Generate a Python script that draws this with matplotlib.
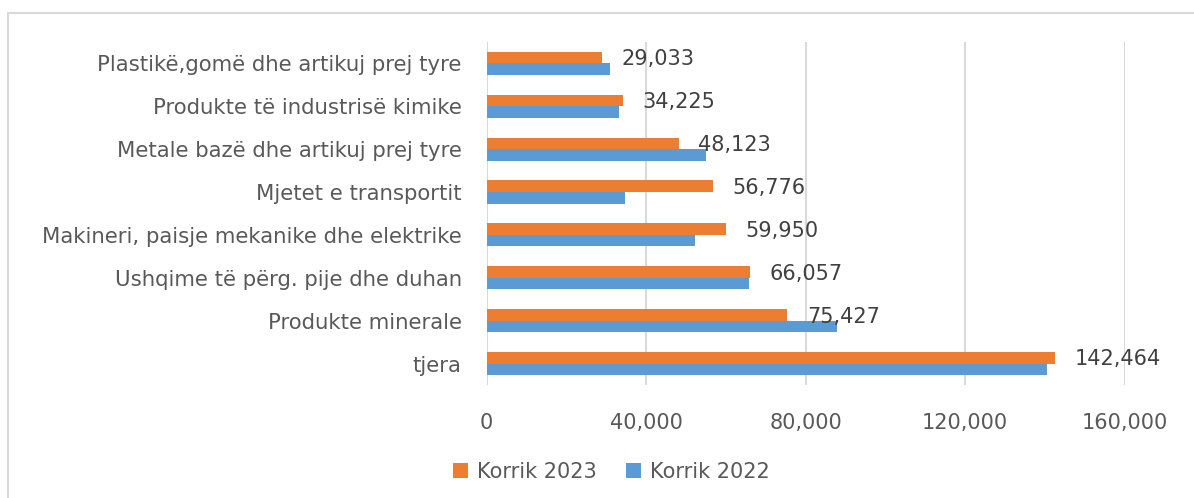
import matplotlib.pyplot as plt
from matplotlib.patches import Rectangle

# categories, top to bottom
categories = ['Plastikë,gomë dhe artikuj prej tyre',
              'Produkte të industrisë kimike',
              'Metale bazë dhe artikuj prej tyre',
              'Mjetet e transportit',
              'Makineri, paisje mekanike dhe elektrike',
              'Ushqime të përg. pije dhe duhan',
              'Produkte minerale',
              'tjera']
korrik_2023 = [29033, 34225, 48123, 56776, 59950, 66057, 75427, 142464]
korrik_2022 = [30900, 33200, 55100, 34800, 52300, 65800, 87800, 140600]
xticks = [0, 40000, 80000, 120000, 160000]

orange = '#ED7D31'
blue = '#5B9BD5'
txt = '#595959'

fig = plt.figure(figsize=(11.94, 4.98), dpi=100)
ax = fig.add_axes([0.4076, 0.227, 0.942 - 0.4076, 0.9157 - 0.227])

y = list(range(len(categories)))
h = 0.27
ax.barh([i - h / 2 for i in y], korrik_2023, height=h, color=orange, label='Korrik 2023', zorder=3)
ax.barh([i + h / 2 for i in y], korrik_2022, height=h, color=blue, label='Korrik 2022', zorder=3)

# data labels for 2023
for i, v in enumerate(korrik_2023):
    ax.annotate(f'{v:,}', (v, i - h / 2 + 0.04), xytext=(14, 0), textcoords='offset points',
                va='center', ha='left', fontsize=15, color='#404040')

ax.set_xlim(0, 160000)
ax.set_ylim(len(categories) - 0.5, -0.5)
ax.set_xticks(xticks)
ax.set_xticklabels([f'{t:,}' for t in xticks])
ax.set_yticks(y)
ax.set_yticklabels(categories)
ax.tick_params(axis='x', length=0, pad=20, labelsize=15, labelcolor=txt)
ax.tick_params(axis='y', length=0, pad=18, labelsize=15.3, labelcolor=txt)
ax.grid(axis='x', color='#d9d9d9', linewidth=1.5, zorder=0)
for s in ax.spines.values():
    s.set_visible(False)

leg = ax.legend(loc='center', ncol=2, frameon=False,
                fontsize=15, handlelength=0.75, handleheight=0.75,
                handletextpad=0.4, columnspacing=1.4, labelcolor=txt)
leg.set_bbox_to_anchor((611 / 1194, 1 - 472 / 498), transform=fig.transFigure)

# outer chart frame
fig.patches.append(Rectangle((8 / 1194, -0.1), 1.2, 1 - 13 / 498 + 0.1,
                             transform=fig.transFigure, fill=False,
                             edgecolor='#d9d9d9', linewidth=1.5))

fig.savefig('out.png', dpi=100)
